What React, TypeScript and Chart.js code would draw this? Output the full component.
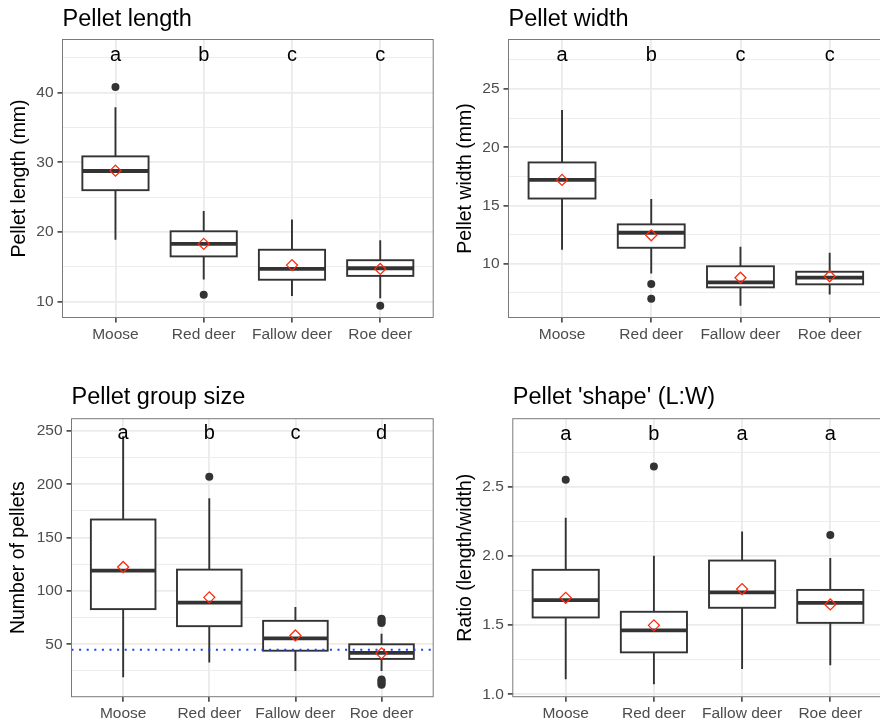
import React, { useEffect, useRef } from 'react';
import { Chart, registerables } from 'chart.js';

Chart.register(...registerables);

// ---------- data ----------
const categories = ['Moose', 'Red deer', 'Fallow deer', 'Roe deer'];

// Pellet length (mm)
const lenLow = [18.9, 13.2, 10.8, 10.5];
const lenQ1 = [26.0, 16.5, 13.15, 13.7];
const lenMed = [28.75, 18.3, 14.7, 14.8];
const lenQ3 = [30.85, 20.1, 17.45, 15.95];
const lenHigh = [37.9, 23.0, 21.8, 18.8];
const lenMean = [28.8, 18.3, 15.25, 14.7];
const lenOutCat = [0, 1, 3];
const lenOutVal = [40.8, 11.0, 9.4];
const lenLetters = ['a', 'b', 'c', 'c'];
const lenTicks = [10, 20, 30, 40];
const lenTickLabels = ['10', '20', '30', '40'];
const lenMinor = [15, 25, 35, 45];

// Pellet width (mm)
const widLow = [11.2, 9.17, 6.4, 7.35];
const widQ1 = [15.6, 11.37, 7.97, 8.23];
const widMed = [17.2, 12.66, 8.4, 8.8];
const widQ3 = [18.7, 13.38, 9.78, 9.31];
const widHigh = [23.2, 15.56, 11.46, 10.95];
const widMean = [17.2, 12.44, 8.8, 8.92];
const widOutCat = [1, 1];
const widOutVal = [8.26, 6.99];
const widLetters = ['a', 'b', 'c', 'c'];
const widTicks = [10, 15, 20, 25];
const widTickLabels = ['10', '15', '20', '25'];
const widMinor = [7.5, 12.5, 17.5, 22.5, 27.5];

// Pellet group size (number of pellets)
const grpLow = [19, 33, 25, 25];
const grpQ1 = [83, 67, 44, 36.3];
const grpMed = [119, 89, 55.5, 42];
const grpQ3 = [167, 120, 72, 50];
const grpHigh = [245, 187, 85, 60];
const grpMean = [122.5, 94, 58.3, 41.5];
const grpOutCat = [1, 3, 3, 3, 3, 3, 3, 3, 3, 3];
const grpOutVal = [207, 70, 71, 73, 74, 12, 13, 15, 16, 17];
const grpLetters = ['a', 'b', 'c', 'd'];
const grpTicks = [50, 100, 150, 200, 250];
const grpTickLabels = ['50', '100', '150', '200', '250'];
const grpMinor = [25, 75, 125, 175, 225];
const grpThreshold = 45;

// Pellet shape ratio (length/width)
const ratLow = [1.108, 1.072, 1.182, 1.209];
const ratQ1 = [1.555, 1.303, 1.625, 1.516];
const ratMed = [1.68, 1.462, 1.736, 1.66];
const ratQ3 = [1.899, 1.596, 1.966, 1.754];
const ratHigh = [2.276, 2.0, 2.175, 1.985];
const ratMean = [1.697, 1.498, 1.76, 1.649];
const ratOutCat = [0, 1, 3];
const ratOutVal = [2.55, 2.646, 2.151];
const ratLetters = ['a', 'b', 'a', 'a'];
const ratTicks = [1.0, 1.5, 2.0, 2.5];
const ratTickLabels = ['1.0', '1.5', '2.0', '2.5'];
const ratMinor = [1.25, 1.75, 2.25, 2.75];

// ---------- styling ----------
const FONT = '"Liberation Sans", Arial, Helvetica, sans-serif';
const DARK = '#333333';
const GRID = '#EBEBEB';

type Panel = {
  title: string;
  yTitle: string;
  low: number[]; q1: number[]; med: number[]; q3: number[]; high: number[]; mean: number[];
  outCat: number[]; outVal: number[];
  letters: string[]; letterY: number;
  yMin: number; yMax: number;
  yTicks: number[]; yTickLabels: string[]; yMinor: number[];
  hline?: number;
  // layout
  box: { left: number; top: number; width: number; height: number };
  area: { left: number; right: number; top: number; bottom: number };
  titleBaseline: number;
  yTitleCenter: number;
};

const panels: Panel[] = [
  {
    title: 'Pellet length', yTitle: 'Pellet length (mm)',
    low: lenLow, q1: lenQ1, med: lenMed, q3: lenQ3, high: lenHigh, mean: lenMean,
    outCat: lenOutCat, outVal: lenOutVal, letters: lenLetters, letterY: 45.35,
    yMin: 7.73, yMax: 47.62, yTicks: lenTicks, yTickLabels: lenTickLabels, yMinor: lenMinor,
    box: { left: 0, top: 0, width: 440, height: 360 },
    area: { left: 62.5, right: 438, top: 39.5, bottom: 317.5 },
    titleBaseline: 25.5, yTitleCenter: 20,
  },
  {
    title: 'Pellet width', yTitle: 'Pellet width (mm)',
    low: widLow, q1: widQ1, med: widMed, q3: widQ3, high: widHigh, mean: widMean,
    outCat: widOutCat, outVal: widOutVal, letters: widLetters, letterY: 27.88,
    yMin: 5.38, yMax: 29.26, yTicks: widTicks, yTickLabels: widTickLabels, yMinor: widMinor,
    box: { left: 440, top: 0, width: 450, height: 360 },
    area: { left: 68.5, right: 444, top: 39.5, bottom: 317.5 },
    titleBaseline: 25.5, yTitleCenter: 26,
  },
  {
    title: 'Pellet group size', yTitle: 'Number of pellets',
    low: grpLow, q1: grpQ1, med: grpMed, q3: grpQ3, high: grpHigh, mean: grpMean,
    outCat: grpOutCat, outVal: grpOutVal, letters: grpLetters, letterY: 247.4,
    yMin: 0.88, yMax: 261.5, yTicks: grpTicks, yTickLabels: grpTickLabels, yMinor: grpMinor,
    hline: grpThreshold,
    box: { left: 0, top: 360, width: 440, height: 361 },
    area: { left: 71.5, right: 438, top: 58.7, bottom: 336.7 },
    titleBaseline: 43.5, yTitleCenter: 19,
  },
  {
    title: "Pellet 'shape' (L:W)", yTitle: 'Ratio (length/width)',
    low: ratLow, q1: ratQ1, med: ratMed, q3: ratQ3, high: ratHigh, mean: ratMean,
    outCat: ratOutCat, outVal: ratOutVal, letters: ratLetters, letterY: 2.875,
    yMin: 0.9827, yMax: 2.9906, yTicks: ratTicks, yTickLabels: ratTickLabels, yMinor: ratMinor,
    box: { left: 440, top: 360, width: 450, height: 361 },
    area: { left: 72.8, right: 444, top: 58.7, bottom: 336.7 },
    titleBaseline: 44, yTitleCenter: 26,
  },
];

const near = (a: number, b: number) => Math.abs(a - b) < 1e-6;

function makePlugin(p: Panel) {
  return {
    id: 'boxplotPanel',
    beforeDatasetsDraw(chart: any) {
      const { ctx, chartArea } = chart;
      const x = chart.scales.x;
      const y = chart.scales.y;
      ctx.save();
      ctx.beginPath();
      ctx.rect(chartArea.left, chartArea.top, chartArea.right - chartArea.left, chartArea.bottom - chartArea.top);
      ctx.clip();
      ctx.strokeStyle = DARK;
      ctx.lineCap = 'butt';
      for (let i = 0; i < categories.length; i++) {
        const cx = x.getPixelForValue(i + 1);
        const half = x.getPixelForValue(i + 1 + 0.375) - cx;
        const yl = y.getPixelForValue(p.low[i]);
        const y1 = y.getPixelForValue(p.q1[i]);
        const ym = y.getPixelForValue(p.med[i]);
        const y3 = y.getPixelForValue(p.q3[i]);
        const yh = y.getPixelForValue(p.high[i]);
        // whiskers
        ctx.lineWidth = 1.9;
        ctx.beginPath();
        ctx.moveTo(cx, yh); ctx.lineTo(cx, y3);
        ctx.moveTo(cx, y1); ctx.lineTo(cx, yl);
        ctx.stroke();
        // box
        ctx.fillStyle = '#FFFFFF';
        ctx.fillRect(cx - half, y3, 2 * half, y1 - y3);
        ctx.strokeRect(cx - half, y3, 2 * half, y1 - y3);
        // median
        ctx.lineWidth = 3.8;
        ctx.beginPath();
        ctx.moveTo(cx - half, ym); ctx.lineTo(cx + half, ym);
        ctx.stroke();
      }
      ctx.restore();
    },
    afterDatasetsDraw(chart: any) {
      const { ctx, chartArea } = chart;
      const x = chart.scales.x;
      const y = chart.scales.y;
      ctx.save();
      // significance letters
      ctx.fillStyle = '#000000';
      ctx.font = `20px ${FONT}`;
      ctx.textAlign = 'center';
      ctx.textBaseline = 'middle';
      for (let i = 0; i < categories.length; i++) {
        ctx.fillText(p.letters[i], x.getPixelForValue(i + 1), y.getPixelForValue(p.letterY));
      }
      // panel border
      ctx.strokeStyle = '#7A7A7A';
      ctx.lineWidth = 1;
      ctx.strokeRect(chartArea.left, chartArea.top, chartArea.right - chartArea.left, chartArea.bottom - chartArea.top);
      // panel title
      ctx.fillStyle = '#000000';
      ctx.font = `23.5px ${FONT}`;
      ctx.textAlign = 'left';
      ctx.textBaseline = 'alphabetic';
      ctx.fillText(p.title, chartArea.left, p.titleBaseline);
      ctx.restore();
    },
  };
}

function buildConfig(p: Panel): any {
  const isMajor = (v: number) => p.yTicks.some((t) => near(t, v));
  const allY = [...p.yTicks, ...p.yMinor].filter((v) => v >= p.yMin && v <= p.yMax).sort((a, b) => a - b);
  const titleFont = 19.5;
  const titleLH = titleFont * 1.2;

  const datasets: any[] = [
    {
      type: 'scatter',
      label: 'mean',
      data: p.mean.map((v, i) => ({ x: i + 1, y: v })),
      pointStyle: 'rectRot',
      pointRadius: 5.5,
      pointBorderColor: '#FF2A0E',
      pointBackgroundColor: 'rgba(0,0,0,0)',
      pointBorderWidth: 1.3,
      showLine: false,
    },
  ];
  if (p.hline !== undefined) {
    datasets.push({
      type: 'line',
      label: 'threshold',
      data: [{ x: 0.4, y: p.hline }, { x: 4.6, y: p.hline }],
      borderColor: '#1F3CFF',
      borderWidth: 2,
      borderDash: [2, 5.6],
      pointRadius: 0,
      fill: false,
    });
  }
  datasets.push({
    type: 'scatter',
    label: 'outliers',
    data: p.outCat.map((c, k) => ({ x: c + 1, y: p.outVal[k] })),
    pointStyle: 'circle',
    pointRadius: 4,
    pointBackgroundColor: DARK,
    pointBorderWidth: 0,
    showLine: false,
  });

  return {
    type: 'scatter',
    data: { datasets },
    plugins: [makePlugin(p)],
    options: {
      animation: false,
      responsive: false,
      events: [],
      layout: {
        padding: {
          left: 0,
          top: p.area.top,
          right: p.box.width - p.area.right,
          bottom: 0,
        },
      },
      plugins: {
        legend: { display: false },
        tooltip: { enabled: false },
        title: { display: false },
      },
      scales: {
        x: {
          type: 'linear',
          min: 0.4,
          max: 4.6,
          bounds: 'data',
          afterBuildTicks: (s: any) => {
            s.ticks = categories.map((_, i) => ({ value: i + 1 }));
          },
          afterFit: (s: any) => {
            s.height = p.box.height - p.area.bottom;
          },
          ticks: {
            autoSkip: false,
            maxRotation: 0,
            minRotation: 0,
            padding: 3,
            color: '#4D4D4D',
            font: { family: FONT, size: 15.5 },
            callback: (v: number) => categories[Math.round(v) - 1] ?? '',
          },
          grid: {
            color: GRID,
            lineWidth: 1.8,
            drawTicks: true,
            tickLength: 5,
            tickColor: DARK,
            tickWidth: 1.5,
          },
          border: { display: false },
        },
        y: {
          type: 'linear',
          min: p.yMin,
          max: p.yMax,
          bounds: 'data',
          afterBuildTicks: (s: any) => {
            s.ticks = allY.map((v) => ({ value: v }));
          },
          afterFit: (s: any) => {
            s.width = p.area.left;
          },
          ticks: {
            padding: 4,
            color: '#4D4D4D',
            font: { family: FONT, size: 15.5 },
            callback: (v: number) => {
              const k = p.yTicks.findIndex((t) => near(t, v));
              return k >= 0 ? p.yTickLabels[k] : '';
            },
          },
          grid: {
            color: GRID,
            lineWidth: (c: any) => (c.tick && isMajor(c.tick.value) ? 1.8 : 0.9),
            drawTicks: true,
            tickLength: 5,
            tickColor: (c: any) => (c.tick && isMajor(c.tick.value) ? DARK : 'rgba(0,0,0,0)'),
            tickWidth: 1.5,
          },
          border: { display: false },
          title: {
            display: true,
            text: p.yTitle,
            color: '#000000',
            font: { family: FONT, size: titleFont },
            padding: { top: p.yTitleCenter - titleLH / 2, bottom: 0 },
          },
        },
      },
    },
  };
}

function PanelChart({ panel }: { panel: Panel }) {
  const ref = useRef<HTMLCanvasElement>(null);
  useEffect(() => {
    const chart = new Chart(ref.current as HTMLCanvasElement, buildConfig(panel));
    return () => chart.destroy();
  }, [panel]);
  return (
    <div
      style={{
        position: 'absolute',
        left: panel.box.left,
        top: panel.box.top,
        width: panel.box.width,
        height: panel.box.height,
      }}
    >
      <canvas
        ref={ref}
        width={panel.box.width}
        height={panel.box.height}
        style={{ width: panel.box.width, height: panel.box.height, display: 'block' }}
      />
    </div>
  );
}

export default function App() {
  return (
    <div
      style={{
        position: 'absolute',
        left: 0,
        top: 0,
        width: 880,
        height: 721,
        overflow: 'hidden',
        background: '#FFFFFF',
      }}
    >
      {panels.map((p) => (
        <PanelChart key={p.title} panel={p} />
      ))}
    </div>
  );
}
